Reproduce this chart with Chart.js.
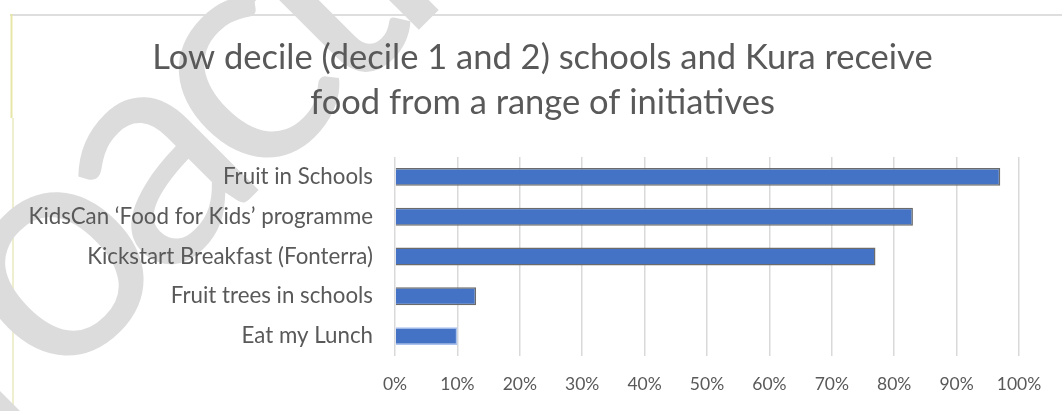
<!DOCTYPE html>
<html>
<head>
<meta charset="utf-8">
<script src="https://cdn.jsdelivr.net/npm/chart.js@4"></script>
<style>
  html, body { margin: 0; padding: 0; background: #ffffff; }
  #wrap { position: relative; width: 1062px; height: 411px; }
</style>
</head>
<body>
<div id="wrap"><canvas id="c" width="1062" height="411"></canvas></div>
<script>
const titleLines = ['Low decile (decile 1 and 2) schools and Kura receive', 'food from a range of initiatives'];
const categories = ['Fruit in Schools', 'KidsCan \u2018Food for Kids\u2019 programme', 'Kickstart Breakfast (Fonterra)', 'Fruit trees in schools', 'Eat my Lunch'];
const values = [97, 83, 77, 13, 10];
const xTickValues = [0, 10, 20, 30, 40, 50, 60, 70, 80, 90, 100];
const watermarkText = 'Proactively Released';

const FONT = 'Lato, "Open Sans", sans-serif';
const TEXT = '#595959';

const decor = {
  id: 'decor',
  afterLayout(chart) {
    const t = chart.titleBlock;
    if (t) { t.left = 23; t.right = 1062; t.width = 1039; }
  },
  beforeDraw(chart) {
    const ctx = chart.ctx;
    // frame lines
    ctx.save();
    ctx.lineWidth = 2;
    ctx.strokeStyle = '#dedede';
    ctx.beginPath(); ctx.moveTo(10, 15); ctx.lineTo(1062, 15); ctx.stroke();
    ctx.strokeStyle = '#e6e6a6';
    ctx.beginPath(); ctx.moveTo(11.5, 14); ctx.lineTo(11.5, 118); ctx.stroke();
    ctx.strokeStyle = '#efefcf';
    ctx.beginPath(); ctx.moveTo(13, 118); ctx.lineTo(13, 411); ctx.stroke();
    ctx.restore();
    // watermark
    ctx.save();
    const size = 315, ls = -27;
    ctx.font = '400 ' + size + 'px Lato, sans-serif';
    ctx.fillStyle = '#dcdcdc';
    ctx.textBaseline = 'alphabetic';
    ctx.translate(62, 274);
    ctx.rotate(-45 * Math.PI / 180);
    const chars = Array.from(watermarkText);
    let x = 0;
    for (let i = 0; i < 2; i++) x -= ctx.measureText(chars[i]).width + ls;
    x -= ctx.measureText('o').width / 2;
    for (const ch of chars) {
      ctx.fillText(ch, x, size * 0.253);
      x += ctx.measureText(ch).width + ls;
    }
    ctx.restore();
  }
};

new Chart(document.getElementById('c'), {
  type: 'bar',
  data: {
    labels: categories,
    datasets: [{
      data: values,
      backgroundColor: '#4472C4',
      borderColor: ['#6b6b6b', '#6b6b6b', '#6b6b6b', '#6b6b6b', '#a9c2ee'],
      borderWidth: 1.5,
      borderSkipped: 'left',
      barPercentage: 0.45,
      categoryPercentage: 1.0
    }]
  },
  options: {
    indexAxis: 'y',
    responsive: false,
    animation: false,
    events: [],
    layout: { padding: { left: 0, right: 43, top: 0, bottom: 0 } },
    plugins: {
      legend: { display: false },
      tooltip: { enabled: false },
      title: {
        display: true,
        text: titleLines,
        color: TEXT,
        font: { family: FONT, size: 34.5, weight: 'normal', lineHeight: 1.304 },
        padding: { top: 35, bottom: 32 }
      }
    },
    scales: {
      x: {
        min: 0, max: 100,
        afterBuildTicks(scale) { scale.ticks = xTickValues.map(v => ({ value: v })); },
        afterFit(scale) { scale.height = 55; },
        ticks: {
          color: TEXT,
          font: { family: FONT, size: 17.5 },
          padding: 18,
          maxRotation: 0,
          callback: v => v + '%'
        },
        grid: { color: '#d9d9d9', lineWidth: 1.5, drawTicks: false },
        border: { display: false }
      },
      y: {
        afterFit(scale) { scale.width = 395; },
        ticks: {
          color: TEXT,
          font: { family: FONT, size: 22.3 },
          padding: 22
        },
        grid: { display: false, drawTicks: false },
        border: { display: false }
      }
    }
  },
  plugins: [decor]
});
</script>
</body>
</html>
